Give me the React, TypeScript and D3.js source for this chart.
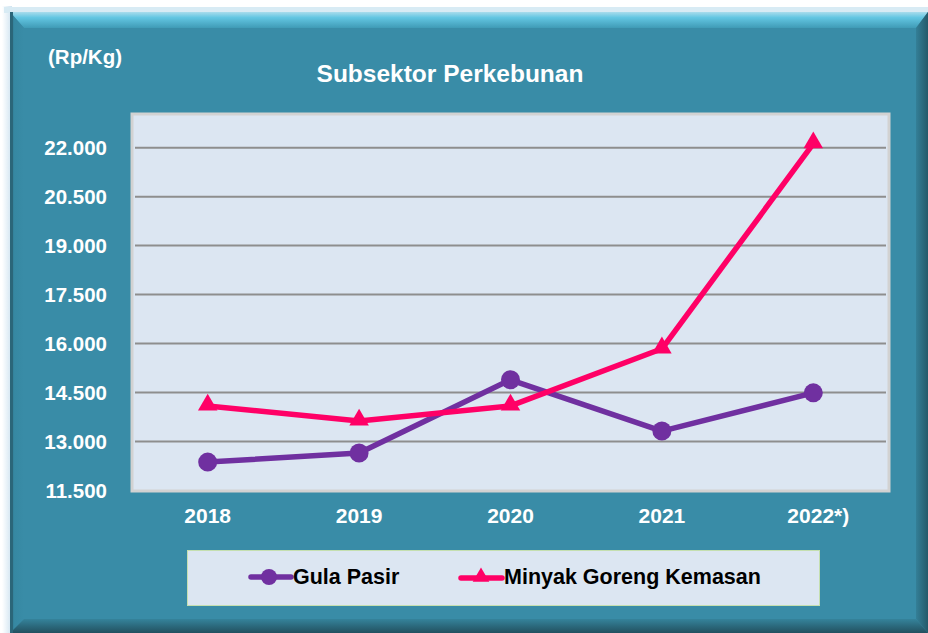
import React from "react";
import * as d3 from "d3";

const years = ["2018", "2019", "2020", "2021", "2022*)"];
const gulaPasir = [12370, 12650, 14890, 13320, 14490];
const minyakGoreng = [14090, 13630, 14090, 15840, 22120];
const yTicks = [11500, 13000, 14500, 16000, 17500, 19000, 20500, 22000];
const seriesNames = ["Gula Pasir", "Minyak Goreng Kemasan"];
const titleText = "Subsektor Perkebunan";
const unitText = "(Rp/Kg)";

const W = 928;
const H = 633;
const FONT = "Arial, 'Liberation Sans', sans-serif";
const TEAL = "#398ca7";
const PURPLE = "#7030a0";
const PINK = "#ff0066";

const plot = { x0: 132, x1: 889, y0: 114, y1: 491 };

const fmt = (v: number) => d3.format(",")(v).replace(/,/g, ".");

export default function App() {
  const x = d3.scaleBand<string>().domain(years).range([plot.x0, plot.x1]);
  const y = d3.scaleLinear().domain([11500, 23000]).range([490.5, 115]);
  const cx = (d: string) => (x(d) as number) + x.bandwidth() / 2;

  const line = d3
    .line<number>()
    .x((_, i) => cx(years[i]))
    .y((v) => y(v));

  const tri = d3.symbol().type(d3.symbolTriangle).size(165)() as string;
  const triSmall = d3.symbol().type(d3.symbolTriangle).size(120)() as string;

  return (
    <svg
      width={W}
      height={H}
      style={{ position: "absolute", left: 0, top: 0 }}
      fontFamily={FONT}
    >
      <defs>
        <linearGradient id="topBevel" x1="0" y1="0" x2="0" y2="1">
          <stop offset="0" stopColor="#a9dcec" />
          <stop offset="0.35" stopColor="#63c6e2" />
          <stop offset="1" stopColor="#3f9bb6" />
        </linearGradient>
        <linearGradient id="botBevel" x1="0" y1="0" x2="0" y2="1">
          <stop offset="0" stopColor="#35839b" />
          <stop offset="1" stopColor="#22505f" />
        </linearGradient>
        <linearGradient id="rightBevel" x1="0" y1="0" x2="1" y2="0">
          <stop offset="0" stopColor="#347f97" />
          <stop offset="1" stopColor="#245a6a" />
        </linearGradient>
        <linearGradient id="leftBevel" x1="0" y1="0" x2="1" y2="0">
          <stop offset="0" stopColor="#2a6a7e" />
          <stop offset="0.3" stopColor="#3688a2" />
          <stop offset="1" stopColor="#398ca7" />
        </linearGradient>
        <linearGradient id="outerGlow" x1="0" y1="0" x2="1" y2="0">
          <stop offset="0" stopColor="#ffffff" />
          <stop offset="1" stopColor="#cfe3f0" />
        </linearGradient>
      </defs>

      <rect x={0} y={0} width={W} height={H} fill="#ffffff" />
      <rect x={2} y={6} width={10} height={H - 6} fill="url(#outerGlow)" />
      <rect x={4} y={7} width={W - 4} height={6} fill="#d8ebf4" />

      {/* panel */}
      <rect x={10} y={12} width={W - 10} height={H - 12} fill={TEAL} />
      <polygon points={`10,12 ${W},12 ${W - 12},28 24,28`} fill="url(#topBevel)" />
      <polygon points={`10,12 24,28 24,${H - 14} 10,${H}`} fill="url(#leftBevel)" />
      <polygon points={`${W},12 ${W - 12},28 ${W - 12},${H - 14} ${W},${H}`} fill="url(#rightBevel)" />
      <polygon points={`10,${H} 24,${H - 14} ${W - 12},${H - 14} ${W},${H}`} fill="url(#botBevel)" />
      <rect x={10} y={12} width={3} height={H - 12} fill="#2b6679" />

      {/* titles */}
      <text x={48} y={64} fill="#ffffff" fontSize={20.5} fontWeight="bold">
        {unitText}
      </text>
      <text x={450} y={82} fill="#ffffff" fontSize={24.5} fontWeight="bold" textAnchor="middle">
        {titleText}
      </text>

      {/* plot area */}
      <rect
        x={plot.x0}
        y={plot.y0}
        width={plot.x1 - plot.x0}
        height={plot.y1 - plot.y0}
        fill="#dce6f2"
        stroke="#d2d2d2"
        strokeWidth={3}
      />

      {yTicks.map((t) => (
        <g key={t}>
          {t !== 11500 && (
            <line
              x1={plot.x0 + 3}
              x2={plot.x1 - 3}
              y1={y(t)}
              y2={y(t)}
              stroke="#8e8e8e"
              strokeWidth={2}
            />
          )}
          <text
            x={107}
            y={y(t) + 7.5}
            fill="#ffffff"
            fontSize={20.5}
            fontWeight="bold"
            textAnchor="end"
          >
            {fmt(t)}
          </text>
        </g>
      ))}

      {years.map((yr) => (
        <text
          key={yr}
          x={cx(yr) + (yr.length > 4 ? 5 : 0)}
          y={523}
          fill="#ffffff"
          fontSize={21}
          fontWeight="bold"
          textAnchor="middle"
        >
          {yr}
        </text>
      ))}

      {/* series */}
      <path d={line(gulaPasir) as string} fill="none" stroke={PURPLE} strokeWidth={5.5} strokeLinejoin="round" />
      <path d={line(minyakGoreng) as string} fill="none" stroke={PINK} strokeWidth={5.5} strokeLinejoin="round" />
      {gulaPasir.map((v, i) => (
        <circle key={"g" + i} cx={cx(years[i])} cy={y(v)} r={9.5} fill={PURPLE} />
      ))}
      {minyakGoreng.map((v, i) => (
        <path
          key={"m" + i}
          d={tri}
          transform={`translate(${cx(years[i])},${y(v) - 1})`}
          fill={PINK}
        />
      ))}

      {/* legend */}
      <rect x={187.5} y={550.5} width={632} height={55} fill="#dce6f2" stroke="#c5dfb0" strokeWidth={1} />
      <line x1={251} x2={291} y1={577} y2={577} stroke={PURPLE} strokeWidth={5.5} strokeLinecap="round" />
      <circle cx={269} cy={577} r={8} fill={PURPLE} />
      <text x={293} y={584} fill="#000000" fontSize={21.5} fontWeight="bold">
        {seriesNames[0]}
      </text>
      <line x1={461} x2={502} y1={578} y2={578} stroke={PINK} strokeWidth={5.5} strokeLinecap="round" />
      <path d={triSmall} transform={`translate(481,577)`} fill={PINK} />
      <text x={504} y={584} fill="#000000" fontSize={21.5} fontWeight="bold">
        {seriesNames[1]}
      </text>
    </svg>
  );
}
